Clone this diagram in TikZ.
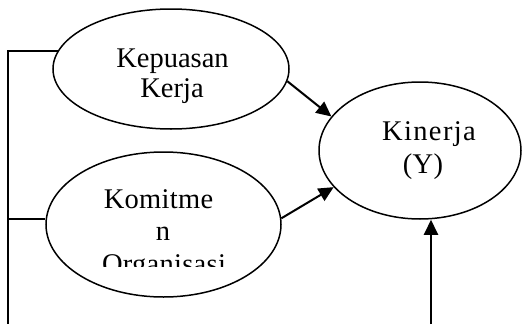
\documentclass[tikz,border=0pt]{standalone}
\usepackage{fontspec}
\newfontfamily\tnr{Liberation Serif}
\usetikzlibrary{shapes.geometric,arrows.meta}
\newcommand{\lsp}[1]{\addfontfeatures{LetterSpace=#1}}
\begin{document}
\begin{tikzpicture}[x=1pt,y=-1pt,
  oval/.style={draw,ellipse,line width=1.5pt,inner sep=0pt},
  lbl/.style={anchor=base,inner sep=0pt,font=\tnr\fontsize{28.5}{30}\selectfont},
  conn/.style={line width=2pt},
  arr/.style={line width=2pt,-{Triangle[length=15pt,width=14pt]}}]
\useasboundingbox (0,0) rectangle (522,324);
\node[oval,minimum width=236pt,minimum height=120pt] (kep) at (171,69) {};
\node[oval,minimum width=235pt,minimum height=145pt] (kom) at (163.5,224.5) {};
\node[oval,minimum width=202pt,minimum height=137pt] (kin) at (420,150.5) {};
\node[lbl] (t1) at (172.5,67) {Kepuasan};
\node[lbl] (t2) at (172,97) {Kerja};
\node[lbl] (t3) at (158.5,208) {\lsp{1}Komitme};
\node[lbl] (t4) at (163,240) {n};
\begin{scope}
\clip (0,0) rectangle (522,266);
\node[lbl] (t5) at (164,273) {\lsp{1}Organisasi};
\end{scope}
\node[lbl] (t6) at (429,140) {\lsp{4.8}Kinerja};
\node[lbl] (t7) at (423,173) {\lsp{1.5}(Y)};
\coordinate (bl) at (8,324);
\coordinate (va) at (431,324);
\coordinate (h2) at (8,219);
\draw[conn] (kep.171) -| (bl);
\draw[conn] (h2 -| kom.west) -- (h2);
\draw[arr] (kep.-6) -- (kin.159.5);
\draw[arr] (kom.3) -- (kin.203);
\draw[arr] (va) -- (va |- kin.south);
\end{tikzpicture}
\end{document}
